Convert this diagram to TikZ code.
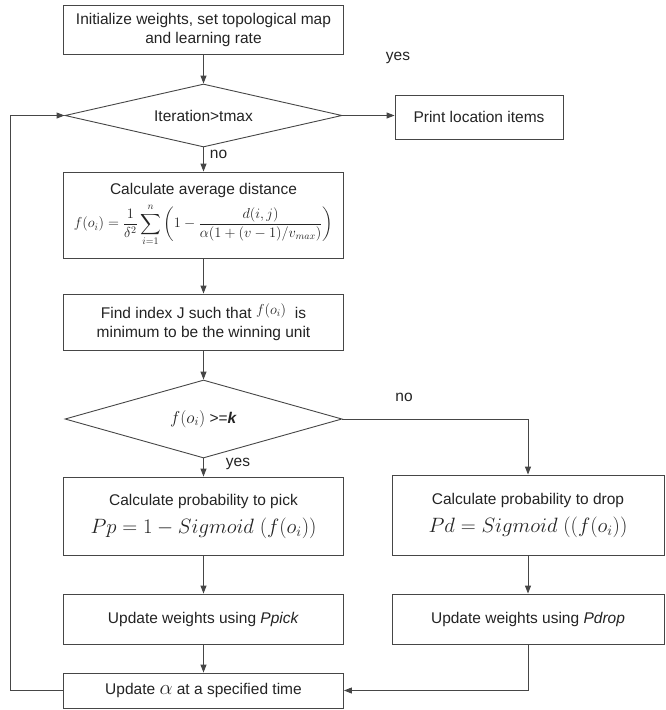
\documentclass[tikz,border=0pt]{standalone}
\usepackage{amsmath}
\usepackage{fontspec}
\setmainfont{Liberation Sans}
\usetikzlibrary{arrows.meta,shapes.geometric}
\definecolor{inkgray}{RGB}{35,35,35}
\definecolor{linegray}{RGB}{70,70,70}

\tikzset{
    procbox/.style={draw=linegray, line width=0.9pt, text=inkgray, align=center, inner sep=2pt, minimum width=280pt},
    decision/.style={diamond, aspect=4, draw=linegray, line width=0.9pt, text=inkgray, inner sep=0pt, minimum width=277pt},
    flow/.style={draw=linegray, line width=0.9pt, ->},
    lbl/.style={text=inkgray, inner sep=0pt}
}
% math sizes that the cm fonts really have
\newcommand{\mathhuge}{\fontsize{20.74}{22}\selectfont}
\newcommand{\mathbig}{\fontsize{17.28}{20}\selectfont}
\newcommand{\mathmid}{\fontsize{14.4}{17}\selectfont}

\begin{document}
\begin{tikzpicture}[x=1pt, y=-1pt, font=\fontsize{15.5}{19}\selectfont,
    >={Triangle[length=8pt, width=6pt]}
]

\useasboundingbox (0,0) rectangle (665,710);

% Start
\node[procbox, minimum height=49pt] (INIT) at (203.5,29.5) {Initialize weights, set topological map\\and learning rate};

% Main loop test
\node[decision, minimum height=63pt] (ITER) at (203.5,115.5) {Iteration>tmax};
\node[procbox, minimum width=168pt, minimum height=44pt] (PRINT) at (479,117) {Print location items};
\node[lbl] at (398,58) {yes};

% Distance measure
\node[procbox, minimum height=86pt, inner sep=1pt] (AVG) at (203.5,215) {
    Calculate average distance\\[5pt]
    {\mathmid$\displaystyle f(o_i)=\frac{1}{\delta^2}\sum_{i=1}^{n}\left(1-\frac{d(i,j)}{\alpha(1+(v-1)/v_{max})}\right)$}
};

% Winner search
\node[procbox, minimum height=56pt] (FIND) at (203.5,322) {Find index J such that \raisebox{4pt}{\mathmid$f(o_i)$}\ \ is\\minimum to be the winning unit};

% Pick / drop test
\node[decision, minimum height=78pt] (CHECK) at (203.5,419) {{\mathbig$f(o_i)$} >=\textbf{\textit{k}}};

% Pick branch
\node[procbox, minimum height=78pt] (PICK) at (203.5,516) {
    Calculate probability to pick\\[9pt]
    {\mathhuge$Pp=1-Sigmoid\ (f(o_i))$}
};
\node[procbox, minimum height=50pt] (UPPICK) at (203.5,619) {Update weights using \textit{Ppick}};

% Drop branch
\node[procbox, minimum width=272pt, minimum height=80pt] (DROP) at (528,515) {
    Calculate probability to drop\\[9pt]
    {\mathhuge$Pd=Sigmoid\ ((f(o_i))$}
};
\node[procbox, minimum width=272pt, minimum height=50pt] (UPDROP) at (528,619) {Update weights using \textit{Pdrop}};

% Learning rate update
\node[procbox, minimum height=35pt] (ALPHA) at (203.5,690.5) {Update {\mathhuge$\alpha$} at a specified time};
\coordinate (LOOP) at (10,690.5);

% Arrows
\draw[flow] (INIT) -- (ITER);
\draw[flow] (ITER.east) -- (ITER.east -| PRINT.west);
\draw[flow] (ITER) -- (AVG) node[lbl, pos=0.3, right=6pt] {no};
\draw[flow] (AVG) -- (FIND);
\draw[flow] (FIND) -- (CHECK);
\draw[flow] (CHECK) -- (PICK) node[lbl, pos=0.3, right=22pt] {yes};
\draw[flow] (CHECK.east) -| (DROP.north);
\node[lbl] at (404,397) {no};
\draw[flow] (PICK) -- (UPPICK);
\draw[flow] (DROP) -- (UPDROP);
\draw[flow] (UPPICK) -- (ALPHA);
\draw[flow] (UPDROP.south) |- (ALPHA.east);
\draw[flow] (ALPHA.west) -- (LOOP) |- (ITER.west);

\end{tikzpicture}
\end{document}
